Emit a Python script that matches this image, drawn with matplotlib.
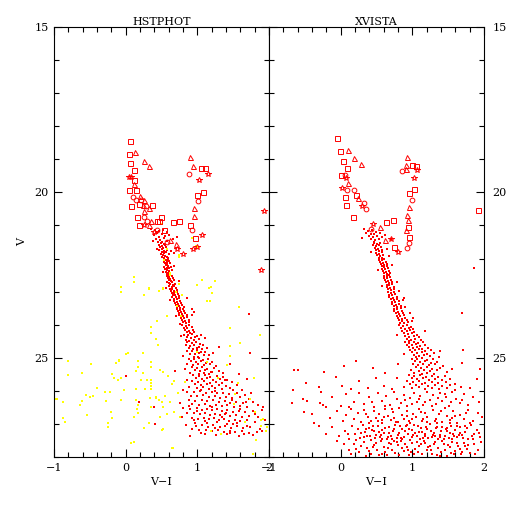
import numpy as np
import matplotlib
matplotlib.use("Agg")
import matplotlib.pyplot as plt
from matplotlib.ticker import MultipleLocator

RED = "#ff0000"
YELLOW = "#ffff00"

panel_titles = ["HSTPHOT", "XVISTA"]

# ---------------- HSTPHOT (left) ----------------
# bright stars, (V-I, V)
hst_squares = [(0.06, 18.45), (0.05, 18.84), (0.06, 19.10), (0.12, 19.31), (0.12, 19.64),
               (0.05, 19.92), (0.15, 19.94), (0.07, 20.42), (0.18, 20.34), (0.37, 20.39),
               (0.16, 20.73), (0.49, 20.73), (0.44, 20.86), (0.66, 20.91), (0.75, 20.88),
               (1.05, 19.26), (1.10, 19.26), (1.08, 19.99), (1.00, 20.09), (0.90, 20.98),
               (0.97, 21.37), (0.19, 21.00), (0.53, 21.15), (0.47, 20.86)]
hst_triangles = [(0.13, 18.79), (0.26, 19.06), (0.32, 19.20), (0.11, 19.76), (0.20, 20.10),
                 (0.26, 20.24), (0.24, 20.38), (0.33, 20.46), (0.25, 20.55), (0.90, 18.93),
                 (0.94, 19.20), (0.96, 20.46), (0.95, 20.70), (0.35, 20.86), (0.32, 21.00),
                 (0.62, 21.45), (0.70, 21.56)]
hst_circles = [(0.10, 20.14), (0.14, 20.24), (0.21, 20.24), (0.29, 20.40), (0.25, 20.73),
               (0.89, 19.43), (1.01, 20.26), (0.92, 21.14), (0.30, 20.86), (0.44, 21.15),
               (0.57, 21.50)]
hst_stars = [(0.05, 19.52), (0.08, 19.55), (1.15, 19.43), (1.03, 19.63), (1.07, 21.30),
             (0.99, 21.64), (0.94, 21.71), (1.93, 20.55), (1.89, 22.36), (0.72, 21.71),
             (0.80, 21.85), (0.26, 21.00), (0.40, 21.20)]

hst_red = [
    (0.36, 21.12), (0.41, 21.15), (0.47, 21.18), (0.52, 21.14), (0.58, 21.20), (0.44, 21.24),
    (0.50, 21.27), (0.39, 21.30), (0.55, 21.31), (0.61, 21.28), (0.46, 21.36), (0.42, 21.40),
    (0.53, 21.38), (0.48, 21.44), (0.57, 21.46), (0.45, 21.50), (0.51, 21.49), (0.66, 21.42),
    (0.72, 21.35), (0.38, 21.47),
    (0.49, 21.53), (0.53, 21.56), (0.46, 21.58), (0.50, 21.61), (0.55, 21.60), (0.48, 21.65),
    (0.52, 21.68), (0.56, 21.66), (0.51, 21.72), (0.47, 21.74), (0.54, 21.76), (0.58, 21.73),
    (0.50, 21.80), (0.53, 21.83), (0.56, 21.81), (0.49, 21.86), (0.52, 21.89), (0.55, 21.91),
    (0.60, 21.87), (0.51, 21.95), (0.54, 21.97), (0.57, 21.94), (0.63, 21.78), (0.68, 21.84),
    (0.44, 21.70), (0.59, 21.99),
    (0.53, 22.02), (0.56, 22.05), (0.59, 22.03), (0.54, 22.09), (0.57, 22.11), (0.61, 22.08),
    (0.55, 22.15), (0.58, 22.17), (0.62, 22.14), (0.56, 22.21), (0.59, 22.23), (0.53, 22.25),
    (0.57, 22.28), (0.60, 22.30), (0.63, 22.26), (0.55, 22.33), (0.58, 22.36), (0.61, 22.38),
    (0.56, 22.41), (0.59, 22.44), (0.62, 22.46), (0.57, 22.48), (0.65, 22.35), (0.68, 22.22),
    (0.52, 22.40), (0.60, 22.50),
    (0.58, 22.53), (0.61, 22.55), (0.64, 22.52), (0.59, 22.59), (0.62, 22.61), (0.66, 22.58),
    (0.60, 22.65), (0.63, 22.67), (0.67, 22.64), (0.58, 22.71), (0.61, 22.73), (0.65, 22.70),
    (0.62, 22.78), (0.66, 22.80), (0.69, 22.76), (0.60, 22.84), (0.64, 22.86), (0.68, 22.83),
    (0.62, 22.91), (0.65, 22.93), (0.70, 22.90), (0.63, 22.97), (0.67, 22.99), (0.72, 22.95),
    (0.56, 22.88), (0.74, 22.68),
    (0.64, 23.03), (0.68, 23.05), (0.71, 23.02), (0.66, 23.09), (0.69, 23.11), (0.73, 23.08),
    (0.65, 23.15), (0.70, 23.17), (0.74, 23.14), (0.67, 23.21), (0.71, 23.23), (0.75, 23.20),
    (0.68, 23.28), (0.72, 23.30), (0.76, 23.27), (0.69, 23.34), (0.73, 23.36), (0.77, 23.33),
    (0.70, 23.41), (0.74, 23.43), (0.79, 23.40), (0.72, 23.47), (0.76, 23.49), (0.81, 23.46),
    (0.62, 23.25), (0.85, 23.18), (0.93, 23.52),
    (0.72, 23.53), (0.76, 23.55), (0.80, 23.52), (0.73, 23.59), (0.77, 23.61), (0.82, 23.58),
    (0.74, 23.66), (0.79, 23.68), (0.83, 23.65), (0.75, 23.72), (0.80, 23.74), (0.85, 23.71),
    (0.77, 23.79), (0.81, 23.81), (0.86, 23.78), (0.78, 23.86), (0.83, 23.88), (0.88, 23.85),
    (0.80, 23.93), (0.84, 23.95), (0.89, 23.92), (0.70, 23.75), (0.92, 23.70), (0.96, 23.62),
    (0.76, 23.98),
    (0.79, 24.02), (0.84, 24.04), (0.89, 24.01), (0.81, 24.09), (0.86, 24.11), (0.92, 24.08),
    (0.83, 24.16), (0.88, 24.18), (0.94, 24.15), (0.85, 24.23), (0.90, 24.25), (0.96, 24.22),
    (0.82, 24.30), (0.87, 24.32), (0.93, 24.29), (0.99, 24.34), (0.86, 24.38), (0.91, 24.41),
    (0.97, 24.37), (1.02, 24.42), (0.84, 24.47), (0.89, 24.49), (0.95, 24.46), (1.05, 24.30),
    (1.10, 24.40), (0.77, 24.35),
    (0.86, 24.53), (0.92, 24.55), (0.98, 24.52), (1.04, 24.57), (0.84, 24.61), (0.90, 24.63),
    (0.96, 24.60), (1.02, 24.66), (1.08, 24.62), (0.88, 24.70), (0.94, 24.72), (1.00, 24.69),
    (1.06, 24.74), (1.13, 24.71), (0.86, 24.79), (0.93, 24.81), (0.99, 24.78), (1.05, 24.84),
    (1.11, 24.82), (0.90, 24.88), (0.97, 24.90), (1.03, 24.87), (1.09, 24.93), (1.16, 24.91),
    (0.95, 24.97), (1.01, 24.99), (0.80, 24.95), (1.22, 24.85), (1.30, 24.68),
    (0.88, 25.03), (0.95, 25.05), (1.02, 25.02), (1.08, 25.07), (1.15, 25.04), (0.91, 25.11),
    (0.98, 25.13), (1.05, 25.10), (1.12, 25.15), (1.20, 25.12), (0.86, 25.19), (0.94, 25.21),
    (1.01, 25.18), (1.09, 25.23), (1.17, 25.20), (1.26, 25.25), (0.92, 25.29), (1.00, 25.31),
    (1.07, 25.28), (1.14, 25.33), (1.23, 25.30), (0.97, 25.38), (1.04, 25.40), (1.11, 25.37),
    (1.19, 25.42), (1.30, 25.39), (0.90, 25.46), (1.02, 25.48), (1.09, 25.45), (1.16, 25.50),
    (1.36, 25.47), (0.83, 25.35), (1.45, 25.20), (0.69, 25.40),
    (0.94, 25.53), (1.02, 25.55), (1.10, 25.52), (1.18, 25.57), (1.27, 25.54), (1.36, 25.59),
    (0.98, 25.62), (1.06, 25.64), (1.14, 25.61), (1.22, 25.66), (1.31, 25.63), (1.42, 25.68),
    (0.92, 25.71), (1.01, 25.73), (1.09, 25.70), (1.17, 25.75), (1.26, 25.72), (1.35, 25.77),
    (1.48, 25.74), (0.97, 25.80), (1.05, 25.82), (1.13, 25.79), (1.21, 25.84), (1.30, 25.81),
    (1.40, 25.86), (1.55, 25.83), (0.89, 25.89), (1.00, 25.91), (1.08, 25.88), (1.16, 25.93),
    (1.25, 25.90), (1.34, 25.95), (1.45, 25.92), (1.62, 25.97), (0.80, 25.98), (1.70, 25.64),
    (0.85, 26.02), (0.96, 26.04), (1.04, 26.01), (1.12, 26.06), (1.20, 26.03), (1.28, 26.08),
    (1.36, 26.05), (1.44, 26.10), (1.55, 26.07), (1.66, 26.12), (0.91, 26.15), (1.00, 26.17),
    (1.08, 26.14), (1.16, 26.19), (1.24, 26.16), (1.32, 26.21), (1.40, 26.18), (1.49, 26.23),
    (1.59, 26.20), (1.72, 26.25), (0.88, 26.28), (0.97, 26.30), (1.06, 26.27), (1.14, 26.32),
    (1.22, 26.29), (1.30, 26.34), (1.38, 26.31), (1.46, 26.36), (1.54, 26.33), (1.64, 26.38),
    (1.78, 26.35), (0.93, 26.41), (1.02, 26.43), (1.10, 26.40), (1.18, 26.45), (1.26, 26.42),
    (1.34, 26.47), (1.42, 26.44), (1.51, 26.49), (1.60, 26.46), (1.70, 26.48), (1.85, 26.44),
    (0.76, 26.36),
    (0.80, 26.53), (0.90, 26.55), (0.99, 26.52), (1.07, 26.57), (1.14, 26.54), (1.21, 26.59),
    (1.28, 26.56), (1.35, 26.61), (1.42, 26.58), (1.50, 26.63), (1.58, 26.60), (1.67, 26.65),
    (1.77, 26.62), (1.90, 26.58), (0.86, 26.66), (0.95, 26.68), (1.04, 26.70), (1.11, 26.67),
    (1.18, 26.72), (1.25, 26.69), (1.32, 26.74), (1.39, 26.71), (1.46, 26.76), (1.54, 26.73),
    (1.62, 26.78), (1.72, 26.75), (1.84, 26.80), (0.78, 26.79), (0.92, 26.82), (1.01, 26.84),
    (1.09, 26.81), (1.16, 26.86), (1.23, 26.83), (1.30, 26.88), (1.37, 26.85), (1.44, 26.90),
    (1.52, 26.87), (1.60, 26.92), (1.69, 26.89), (1.80, 26.94), (1.95, 26.88), (0.97, 26.96),
    (1.13, 26.98), (1.27, 26.95), (1.41, 26.99), (1.56, 26.97),
    (0.84, 27.02), (0.98, 27.05), (1.06, 27.03), (1.15, 27.08), (1.22, 27.04), (1.31, 27.10),
    (1.39, 27.06), (1.47, 27.11), (1.55, 27.07), (1.64, 27.12), (1.74, 27.09), (1.87, 27.14),
    (0.93, 27.16), (1.03, 27.19), (1.12, 27.17), (1.20, 27.22), (1.29, 27.18), (1.37, 27.24),
    (1.45, 27.20), (1.53, 27.25), (1.62, 27.21), (1.72, 27.27), (1.83, 27.23), (1.10, 27.30),
    (1.26, 27.33), (1.41, 27.31), (1.58, 27.35), (1.77, 27.32), (0.90, 27.38),
    (1.00, 26.60), (1.20, 26.50), (1.40, 26.66), (1.60, 26.55), (1.80, 26.70), (1.10, 26.90),
    (1.35, 26.78), (1.50, 27.00), (1.70, 27.05), (1.90, 27.20), (1.25, 27.12), (1.05, 27.26),
    (1.45, 27.28), (1.65, 27.31), (0.95, 26.88), (0.88, 26.45), (1.48, 26.27), (1.68, 26.33),
    (1.92, 26.50), (1.05, 25.98), (1.25, 26.00), (1.50, 25.98), (1.75, 26.05), (0.85, 25.68),
    (1.20, 25.44), (1.38, 25.68), (1.58, 25.50),
    (0.19, 26.35), (0.40, 26.50), (0.41, 27.00), (0.00, 25.55), (1.72, 23.67), (1.73, 24.85)]

hst_yellow = [
    (0.51, 20.95), (0.93, 21.38), (0.98, 21.63), (0.58, 21.70), (0.74, 21.95), (0.53, 22.05),
    (0.62, 22.50), (0.12, 22.72), (-0.06, 23.00), (1.00, 22.80), (1.20, 23.03), (0.70, 23.00),
    (0.25, 23.10), (0.99, 21.64), (0.74, 21.90), (0.62, 22.43), (1.07, 22.65), (1.16, 22.90),
    (1.14, 23.27), (0.33, 22.90), (0.52, 22.90), (0.74, 22.77), (0.79, 23.09), (0.72, 23.45),
    (0.77, 23.75), (0.12, 22.57), (-0.06, 22.87), (0.32, 22.93), (0.46, 22.99), (0.52, 22.93),
    (0.35, 24.24), (0.43, 24.42), (0.45, 24.60), (0.03, 24.87), (0.24, 24.87), (-0.80, 25.09),
    (0.17, 25.09), (-0.14, 25.16), (-0.49, 25.19), (-0.09, 25.06), (0.17, 25.28), (0.35, 25.28),
    (0.48, 25.38), (-0.61, 25.46), (-0.19, 25.50), (-0.16, 25.60), (0.15, 25.40), (0.24, 25.46),
    (-0.81, 25.52), (-0.06, 25.62), (-0.10, 25.68), (0.30, 25.66), (0.35, 25.66), (0.21, 25.67),
    (-0.40, 25.90), (-0.29, 26.02), (-0.22, 26.04), (-0.02, 25.98), (0.15, 25.95), (0.27, 25.95),
    (0.35, 25.95), (0.36, 25.84), (-0.96, 26.25), (-0.88, 26.33), (-0.56, 26.12), (-0.45, 26.15),
    (-0.50, 26.20), (-0.06, 26.29), (0.14, 26.27), (0.17, 26.44), (0.16, 26.56), (0.34, 26.22),
    (0.42, 26.21), (0.47, 26.29), (0.50, 26.34), (-0.64, 26.42), (-0.61, 26.31), (-0.27, 26.31),
    (-0.54, 26.74), (-0.21, 26.63), (-0.19, 26.81), (0.12, 26.79), (-0.88, 26.83), (-0.84, 26.94),
    (-0.24, 26.96), (-0.24, 27.08), (0.17, 26.66), (0.32, 26.96), (0.26, 27.13), (0.48, 26.78),
    (0.51, 27.18), (0.11, 27.55), (0.35, 25.14), (0.35, 25.75), (0.52, 25.43), (0.59, 25.55),
    (0.64, 25.79), (0.68, 25.70), (0.83, 25.72), (0.73, 26.05), (0.55, 26.15), (0.43, 26.20),
    (0.62, 26.35), (0.35, 26.48), (0.52, 26.48), (0.58, 26.70), (0.68, 26.65), (0.76, 26.80),
    (0.52, 27.16), (1.29, 25.60), (1.57, 25.75), (1.52, 26.10), (1.19, 27.20), (1.33, 27.30),
    (1.73, 26.25), (1.81, 26.65), (1.66, 26.95), (1.89, 27.05), (1.91, 26.85), (1.82, 27.49),
    (1.96, 27.20), (0.64, 27.72), (1.14, 25.12), (1.42, 25.22), (1.00, 24.84), (1.45, 24.94),
    (1.51, 26.40), (-0.07, 22.87), (1.19, 22.87), (1.17, 23.27), (1.45, 24.09), (1.59, 24.54),
    (1.87, 24.30), (1.79, 25.60), (1.45, 24.65), (1.58, 23.48), (0.35, 24.08), (0.44, 23.88),
    (0.57, 23.75), (-0.09, 25.10), (0.00, 24.90), (-0.97, 26.24), (1.77, 27.90), (0.07, 27.57),
    (0.66, 27.74), (1.25, 22.67), (1.89, 26.89), (1.97, 27.10)]

# ---------------- XVISTA (right) ----------------
xv_squares = [(-0.05, 18.35), (-0.01, 18.75), (0.03, 19.04), (0.09, 19.25), (0.01, 19.48),
              (0.07, 20.38), (0.17, 20.75), (0.63, 20.90), (0.73, 20.83), (0.75, 21.66),
              (0.99, 19.17), (1.05, 19.20), (1.02, 19.90), (0.96, 20.02), (0.94, 21.04),
              (0.96, 21.34), (1.92, 20.52), (0.06, 20.15), (0.22, 20.07)]
xv_triangles = [(0.10, 18.72), (0.19, 18.96), (0.28, 19.14), (0.10, 19.72), (0.93, 18.93),
                (0.91, 19.16), (0.91, 19.29), (0.95, 20.43), (0.93, 20.67), (0.94, 20.82),
                (0.91, 21.13), (0.24, 20.16), (0.55, 21.05), (0.62, 21.45)]
xv_circles = [(0.06, 19.48), (0.09, 19.92), (0.32, 20.32), (0.99, 20.24), (0.95, 21.52),
              (0.92, 21.68), (0.42, 21.12), (0.85, 19.35), (0.19, 19.94), (0.35, 20.50)]
xv_stars = [(0.02, 19.86), (0.08, 19.57), (1.02, 19.57), (1.07, 19.33), (0.30, 20.40),
            (0.45, 20.95), (0.70, 21.40), (0.80, 21.80)]

xv_red = [
    (0.33, 21.12), (0.38, 21.16), (0.44, 21.14), (0.50, 21.19), (0.36, 21.24), (0.42, 21.27),
    (0.47, 21.25), (0.55, 21.22), (0.40, 21.33), (0.45, 21.36), (0.51, 21.31), (0.58, 21.35),
    (0.43, 21.42), (0.48, 21.45), (0.53, 21.41), (0.46, 21.49), (0.62, 21.28), (0.70, 21.40),
    (0.30, 21.38),
    (0.47, 21.53), (0.51, 21.55), (0.55, 21.52), (0.45, 21.59), (0.49, 21.62), (0.53, 21.60),
    (0.48, 21.67), (0.52, 21.70), (0.56, 21.66), (0.50, 21.75), (0.54, 21.77), (0.58, 21.73),
    (0.49, 21.82), (0.53, 21.85), (0.57, 21.81), (0.51, 21.90), (0.55, 21.92), (0.59, 21.88),
    (0.53, 21.97), (0.57, 21.99), (0.64, 21.70), (0.67, 21.93), (0.43, 21.80),
    (0.54, 22.03), (0.58, 22.05), (0.61, 22.02), (0.55, 22.10), (0.59, 22.12), (0.63, 22.09),
    (0.56, 22.17), (0.60, 22.19), (0.64, 22.16), (0.57, 22.24), (0.61, 22.26), (0.65, 22.23),
    (0.58, 22.31), (0.62, 22.33), (0.66, 22.30), (0.59, 22.38), (0.63, 22.40), (0.67, 22.37),
    (0.60, 22.45), (0.64, 22.47), (0.69, 22.44), (0.72, 22.20), (0.52, 22.35),
    (0.60, 22.52), (0.64, 22.54), (0.68, 22.51), (0.61, 22.58), (0.65, 22.60), (0.69, 22.57),
    (0.62, 22.65), (0.66, 22.67), (0.70, 22.64), (0.63, 22.72), (0.67, 22.74), (0.71, 22.71),
    (0.64, 22.79), (0.68, 22.81), (0.72, 22.78), (0.65, 22.86), (0.69, 22.88), (0.74, 22.85),
    (0.66, 22.93), (0.70, 22.95), (0.75, 22.92), (0.78, 22.70), (0.58, 22.83), (0.82, 22.97),
    (0.66, 23.02), (0.70, 23.04), (0.75, 23.01), (0.67, 23.09), (0.72, 23.11), (0.76, 23.08),
    (0.68, 23.16), (0.73, 23.18), (0.78, 23.15), (0.70, 23.23), (0.74, 23.25), (0.79, 23.22),
    (0.71, 23.30), (0.76, 23.32), (0.81, 23.29), (0.72, 23.37), (0.77, 23.39), (0.82, 23.36),
    (0.74, 23.44), (0.79, 23.46), (0.84, 23.43), (0.88, 23.20), (0.90, 23.48),
    (0.74, 23.52), (0.79, 23.54), (0.84, 23.51), (0.75, 23.59), (0.80, 23.61), (0.86, 23.58),
    (0.77, 23.66), (0.82, 23.68), (0.87, 23.65), (0.78, 23.73), (0.83, 23.75), (0.89, 23.72),
    (0.80, 23.80), (0.85, 23.82), (0.90, 23.79), (0.81, 23.87), (0.86, 23.89), (0.92, 23.86),
    (0.83, 23.94), (0.88, 23.96), (0.94, 23.93), (0.97, 23.65), (1.00, 23.90),
    (0.82, 24.02), (0.87, 24.04), (0.93, 24.01), (0.98, 24.06), (0.84, 24.10), (0.90, 24.12),
    (0.95, 24.09), (1.01, 24.14), (0.86, 24.18), (0.92, 24.20), (0.97, 24.17), (1.03, 24.22),
    (0.88, 24.26), (0.94, 24.28), (1.00, 24.25), (1.06, 24.30), (0.90, 24.34), (0.96, 24.36),
    (1.02, 24.33), (1.09, 24.38), (0.92, 24.43), (0.98, 24.45), (1.04, 24.42), (1.12, 24.47),
    (0.95, 24.49), (1.18, 24.20), (0.78, 24.30),
    (0.90, 24.52), (0.96, 24.54), (1.02, 24.51), (1.08, 24.56), (1.15, 24.53), (0.93, 24.60),
    (0.99, 24.62), (1.05, 24.59), (1.11, 24.64), (1.18, 24.61), (0.95, 24.68), (1.01, 24.70),
    (1.07, 24.67), (1.14, 24.72), (1.22, 24.69), (0.97, 24.76), (1.04, 24.78), (1.10, 24.75),
    (1.17, 24.80), (1.26, 24.77), (1.00, 24.84), (1.06, 24.86), (1.13, 24.83), (1.20, 24.88),
    (1.30, 24.85), (1.02, 24.92), (1.09, 24.94), (1.16, 24.91), (1.24, 24.96), (0.88, 24.90),
    (1.38, 24.80), (1.05, 24.99), (1.70, 23.66), (1.71, 24.76), (1.01, 23.80), (0.87, 23.24),
    (1.37, 24.97), (1.86, 22.29),
    (1.00, 25.03), (1.07, 25.05), (1.14, 25.02), (1.21, 25.07), (1.29, 25.04), (1.04, 25.11),
    (1.11, 25.13), (1.18, 25.10), (1.26, 25.15), (1.35, 25.12), (1.01, 25.19), (1.08, 25.21),
    (1.15, 25.18), (1.23, 25.23), (1.32, 25.20), (1.43, 25.25), (1.05, 25.28), (1.12, 25.31),
    (1.20, 25.28), (1.28, 25.33), (1.38, 25.30), (0.98, 25.37), (1.09, 25.39), (1.16, 25.36),
    (1.24, 25.41), (1.34, 25.38), (1.48, 25.43), (1.03, 25.46), (1.13, 25.48), (1.21, 25.45),
    (1.30, 25.50), (1.55, 25.34), (-0.65, 25.36), (-0.59, 25.36), (-0.23, 25.43), (0.21, 25.11),
    (0.45, 25.30), (0.62, 25.47), (0.80, 25.20), (1.70, 25.15), (1.95, 25.35), (0.05, 25.25),
    (0.95, 25.53), (1.03, 25.55), (1.11, 25.52), (1.19, 25.57), (1.27, 25.54), (1.36, 25.59),
    (1.46, 25.56), (0.99, 25.62), (1.07, 25.64), (1.15, 25.61), (1.23, 25.66), (1.32, 25.63),
    (1.41, 25.68), (1.53, 25.65), (0.92, 25.71), (1.01, 25.73), (1.10, 25.70), (1.18, 25.75),
    (1.27, 25.72), (1.36, 25.77), (1.47, 25.74), (1.60, 25.79), (0.97, 25.80), (1.05, 25.82),
    (1.14, 25.79), (1.22, 25.84), (1.31, 25.81), (1.41, 25.86), (1.52, 25.83), (1.68, 25.88),
    (0.89, 25.89), (1.00, 25.91), (1.09, 25.88), (1.18, 25.93), (1.27, 25.90), (1.37, 25.95),
    (1.48, 25.92), (1.60, 25.97), (1.80, 25.90), (-0.67, 25.97), (-0.48, 25.77), (-0.07, 25.58),
    (0.02, 25.84), (0.25, 25.70), (0.38, 25.92), (0.50, 25.62), (0.60, 25.85), (0.72, 25.95),
    (0.78, 25.60), (-0.30, 25.88), (0.15, 25.95), (1.90, 25.63),
    (-0.68, 26.37), (-0.53, 26.25), (-0.47, 26.30), (-0.29, 26.37), (-0.24, 26.42), (-0.28, 26.02),
    (-0.12, 26.20), (0.00, 26.45), (0.08, 26.10), (0.18, 26.33), (0.26, 26.05), (0.32, 26.40),
    (0.40, 26.18), (0.47, 26.48), (0.52, 26.08), (0.58, 26.30), (0.63, 26.15), (0.69, 26.43),
    (0.74, 26.03), (0.79, 26.25), (0.84, 26.38), (0.88, 26.12), (0.93, 26.47), (0.97, 26.22),
    (1.02, 26.06), (1.06, 26.34), (1.11, 26.16), (1.15, 26.44), (1.20, 26.02), (1.24, 26.27),
    (1.29, 26.13), (1.33, 26.39), (1.38, 26.07), (1.42, 26.30), (1.47, 26.19), (1.51, 26.46),
    (1.56, 26.04), (1.61, 26.24), (1.66, 26.36), (1.72, 26.11), (1.78, 26.42), (1.85, 26.20),
    (1.93, 26.33), (0.90, 26.28), (1.00, 26.40), (1.09, 26.25), (1.18, 26.33), (1.27, 26.45),
    (1.36, 26.22), (1.45, 26.10), (1.54, 26.35), (1.70, 26.28), (0.62, 26.45), (0.44, 26.35),
    (0.12, 26.48),
    (-0.51, 26.63), (-0.40, 26.70), (-0.37, 26.97), (-0.21, 26.50), (-0.15, 26.82), (-0.05, 26.60),
    (0.03, 26.90), (0.08, 26.72), (0.14, 26.55), (0.19, 26.85), (0.24, 26.67), (0.29, 26.95),
    (0.33, 26.58), (0.38, 26.78), (0.42, 26.90), (0.46, 26.62), (0.50, 26.83), (0.54, 26.71),
    (0.58, 26.98), (0.62, 26.54), (0.66, 26.76), (0.70, 26.88), (0.73, 26.64), (0.77, 26.93),
    (0.81, 26.52), (0.85, 26.73), (0.89, 26.85), (0.93, 26.60), (0.97, 26.96), (1.01, 26.69),
    (1.05, 26.80), (1.09, 26.55), (1.13, 26.91), (1.17, 26.66), (1.21, 26.78), (1.25, 26.99),
    (1.29, 26.58), (1.33, 26.84), (1.37, 26.70), (1.41, 26.93), (1.45, 26.53), (1.49, 26.76),
    (1.53, 26.88), (1.57, 26.62), (1.62, 26.97), (1.67, 26.72), (1.72, 26.84), (1.78, 26.57),
    (1.84, 26.90), (1.91, 26.68), (1.97, 26.80), (0.60, 26.80), (0.80, 26.95), (1.00, 26.85),
    (1.20, 26.95), (1.40, 26.60), (1.60, 26.75), (0.35, 26.70), (0.52, 26.92), (0.71, 26.56),
    (0.92, 26.77), (1.12, 26.63), (1.31, 26.90), (1.52, 26.97), (1.75, 26.68),
    (-0.12, 27.10), (-0.02, 27.35), (0.06, 27.20), (0.11, 27.45), (0.16, 27.05), (0.20, 27.30),
    (0.24, 27.15), (0.27, 27.42), (0.31, 27.02), (0.34, 27.25), (0.37, 27.38), (0.40, 27.12),
    (0.43, 27.48), (0.46, 27.22), (0.49, 27.33), (0.52, 27.06), (0.55, 27.41), (0.58, 27.18),
    (0.61, 27.28), (0.64, 27.46), (0.67, 27.09), (0.70, 27.36), (0.73, 27.21), (0.76, 27.03),
    (0.79, 27.44), (0.82, 27.27), (0.85, 27.14), (0.88, 27.39), (0.91, 27.07), (0.94, 27.31),
    (0.97, 27.48), (1.00, 27.19), (1.03, 27.04), (1.06, 27.37), (1.09, 27.24), (1.12, 27.11),
    (1.15, 27.43), (1.18, 27.29), (1.21, 27.16), (1.24, 27.01), (1.27, 27.40), (1.30, 27.26),
    (1.33, 27.13), (1.36, 27.47), (1.39, 27.32), (1.42, 27.08), (1.45, 27.35), (1.48, 27.20),
    (1.51, 27.44), (1.54, 27.05), (1.57, 27.29), (1.60, 27.17), (1.63, 27.41), (1.66, 27.10),
    (1.70, 27.34), (1.74, 27.23), (1.78, 27.46), (1.82, 27.02), (1.86, 27.30), (1.90, 27.18),
    (1.95, 27.40), (0.29, 27.28), (0.41, 27.36), (0.53, 27.24), (0.62, 27.12), (0.71, 27.47),
    (0.80, 27.33), (0.90, 27.22), (0.99, 27.40), (1.08, 27.05), (1.17, 27.35), (1.26, 27.20),
    (1.35, 27.09), (1.44, 27.45), (1.53, 27.27), (1.62, 27.06), (1.71, 27.42), (0.45, 27.05),
    (0.57, 27.45), (0.68, 27.26), (0.86, 27.47), (0.95, 27.16), (1.13, 27.25), (1.22, 27.44),
    (1.40, 27.21), (1.58, 27.36), (1.76, 27.12), (0.36, 27.16), (0.48, 27.42), (0.83, 27.05),
    (1.04, 27.28), (1.31, 27.38), (1.49, 27.11), (1.67, 27.27), (1.85, 27.45),
    (0.18, 27.60), (0.26, 27.85), (0.32, 27.55), (0.37, 27.72), (0.42, 27.92), (0.47, 27.63),
    (0.51, 27.80), (0.56, 27.52), (0.60, 27.70), (0.64, 27.95), (0.68, 27.58), (0.72, 27.78),
    (0.76, 27.88), (0.80, 27.65), (0.84, 27.53), (0.88, 27.82), (0.92, 27.69), (0.96, 27.93),
    (1.00, 27.57), (1.04, 27.75), (1.08, 27.86), (1.12, 27.62), (1.16, 27.51), (1.20, 27.79),
    (1.24, 27.67), (1.28, 27.90), (1.32, 27.56), (1.36, 27.73), (1.40, 27.84), (1.44, 27.60),
    (1.48, 27.96), (1.52, 27.71), (1.56, 27.54), (1.60, 27.81), (1.64, 27.66), (1.68, 27.92),
    (1.72, 27.59), (1.76, 27.76), (1.81, 27.87), (1.86, 27.62), (1.91, 27.78), (1.96, 27.55),
    (0.45, 27.70), (0.62, 27.86), (0.78, 27.55), (0.94, 27.78), (1.10, 27.66), (1.26, 27.80),
    (1.42, 27.52), (1.58, 27.90), (1.74, 27.68), (0.54, 27.95), (0.70, 27.62), (0.86, 27.72),
    (1.02, 27.91), (1.18, 27.58), (1.34, 27.94), (1.50, 27.63), (1.66, 27.75), (0.22, 27.75),
    (0.35, 27.98),
    (0.15, 27.90), (0.28, 27.66), (0.39, 27.82), (0.50, 27.58), (0.58, 27.90), (0.66, 27.74),
    (0.74, 27.52), (0.82, 27.95), (0.90, 27.60), (0.98, 27.84), (1.06, 27.54), (1.14, 27.92),
    (1.22, 27.70), (1.30, 27.62), (1.38, 27.97), (1.46, 27.78), (1.54, 27.88), (1.62, 27.57),
    (1.70, 27.84), (1.78, 27.64), (1.88, 27.92), (0.33, 27.40), (0.44, 27.18), (0.56, 27.32),
    (0.66, 27.40), (0.75, 27.15), (0.84, 27.42), (0.93, 27.02), (1.01, 27.32), (1.11, 27.46),
    (1.19, 27.08), (1.29, 27.34), (1.38, 27.40), (1.47, 27.14), (1.56, 27.46), (1.65, 27.33),
    (1.73, 27.06), (1.83, 27.38), (1.93, 27.26), (0.10, 27.30), (0.22, 27.48), (0.05, 27.62),
    (0.12, 27.80), (-0.05, 27.52), (-0.20, 27.30), (-0.30, 27.05), (0.40, 26.98), (0.57, 26.87),
    (0.75, 26.82), (0.95, 26.90), (1.15, 26.84), (1.35, 26.96), (1.55, 26.82), (1.80, 26.97)]


def xy(points):
    a = np.array(points)
    return a[:, 0], a[:, 1]


def draw_panel(ax, title, squares, triangles, circles, stars, reds, yellows=None):
    x, y = xy(reds)
    ax.plot(x, y, "s", ms=2.1, mfc=RED, mec=RED, mew=0)
    if yellows is not None:
        x, y = xy(yellows)
        ax.plot(x, y, "s", ms=1.7, mfc=YELLOW, mec=YELLOW, mew=0)
    open_kw = dict(ls="none", mfc="none", mec=RED, mew=0.7)
    ax.plot(*xy(squares), marker="s", ms=3.6, **open_kw)
    ax.plot(*xy(triangles), marker="^", ms=3.6, **open_kw)
    ax.plot(*xy(circles), marker="o", ms=3.4, **open_kw)
    ax.plot(*xy(stars), marker="*", ms=4.2, **open_kw)

    ax.set_xlim(-1, 2)
    ax.set_ylim(28, 15)
    ax.xaxis.set_major_locator(MultipleLocator(1))
    ax.xaxis.set_minor_locator(MultipleLocator(0.2))
    ax.yaxis.set_major_locator(MultipleLocator(5))
    ax.yaxis.set_minor_locator(MultipleLocator(1))
    ax.tick_params(which="both", direction="in", top=True, right=True,
                   width=0.8, labelsize=8, pad=4)
    ax.tick_params(which="major", length=6)
    ax.tick_params(which="minor", length=3.5)
    for s in ax.spines.values():
        s.set_linewidth(0.8)
    ax.set_title(title, fontsize=8, pad=1)
    ax.set_xlabel("V\u2212I", fontsize=8, labelpad=3)


plt.rcParams["font.family"] = ["DejaVu Serif"]
plt.rcParams["axes.unicode_minus"] = True

fig = plt.figure(figsize=(5.12, 5.12), dpi=100)
ax1 = fig.add_axes([54 / 512, 55 / 512, 215 / 512, 430 / 512])
ax2 = fig.add_axes([269 / 512, 55 / 512, 215 / 512, 430 / 512])

draw_panel(ax1, panel_titles[0], hst_squares, hst_triangles, hst_circles, hst_stars,
           hst_red, hst_yellow)
draw_panel(ax2, panel_titles[1], xv_squares, xv_triangles, xv_circles, xv_stars, xv_red)

ax1.set_ylabel("V", fontsize=8, rotation=90, labelpad=5)
ax2.tick_params(axis="y", which="both", labelleft=False, labelright=True, pad=6)

fig.savefig("out.png", dpi=100)
